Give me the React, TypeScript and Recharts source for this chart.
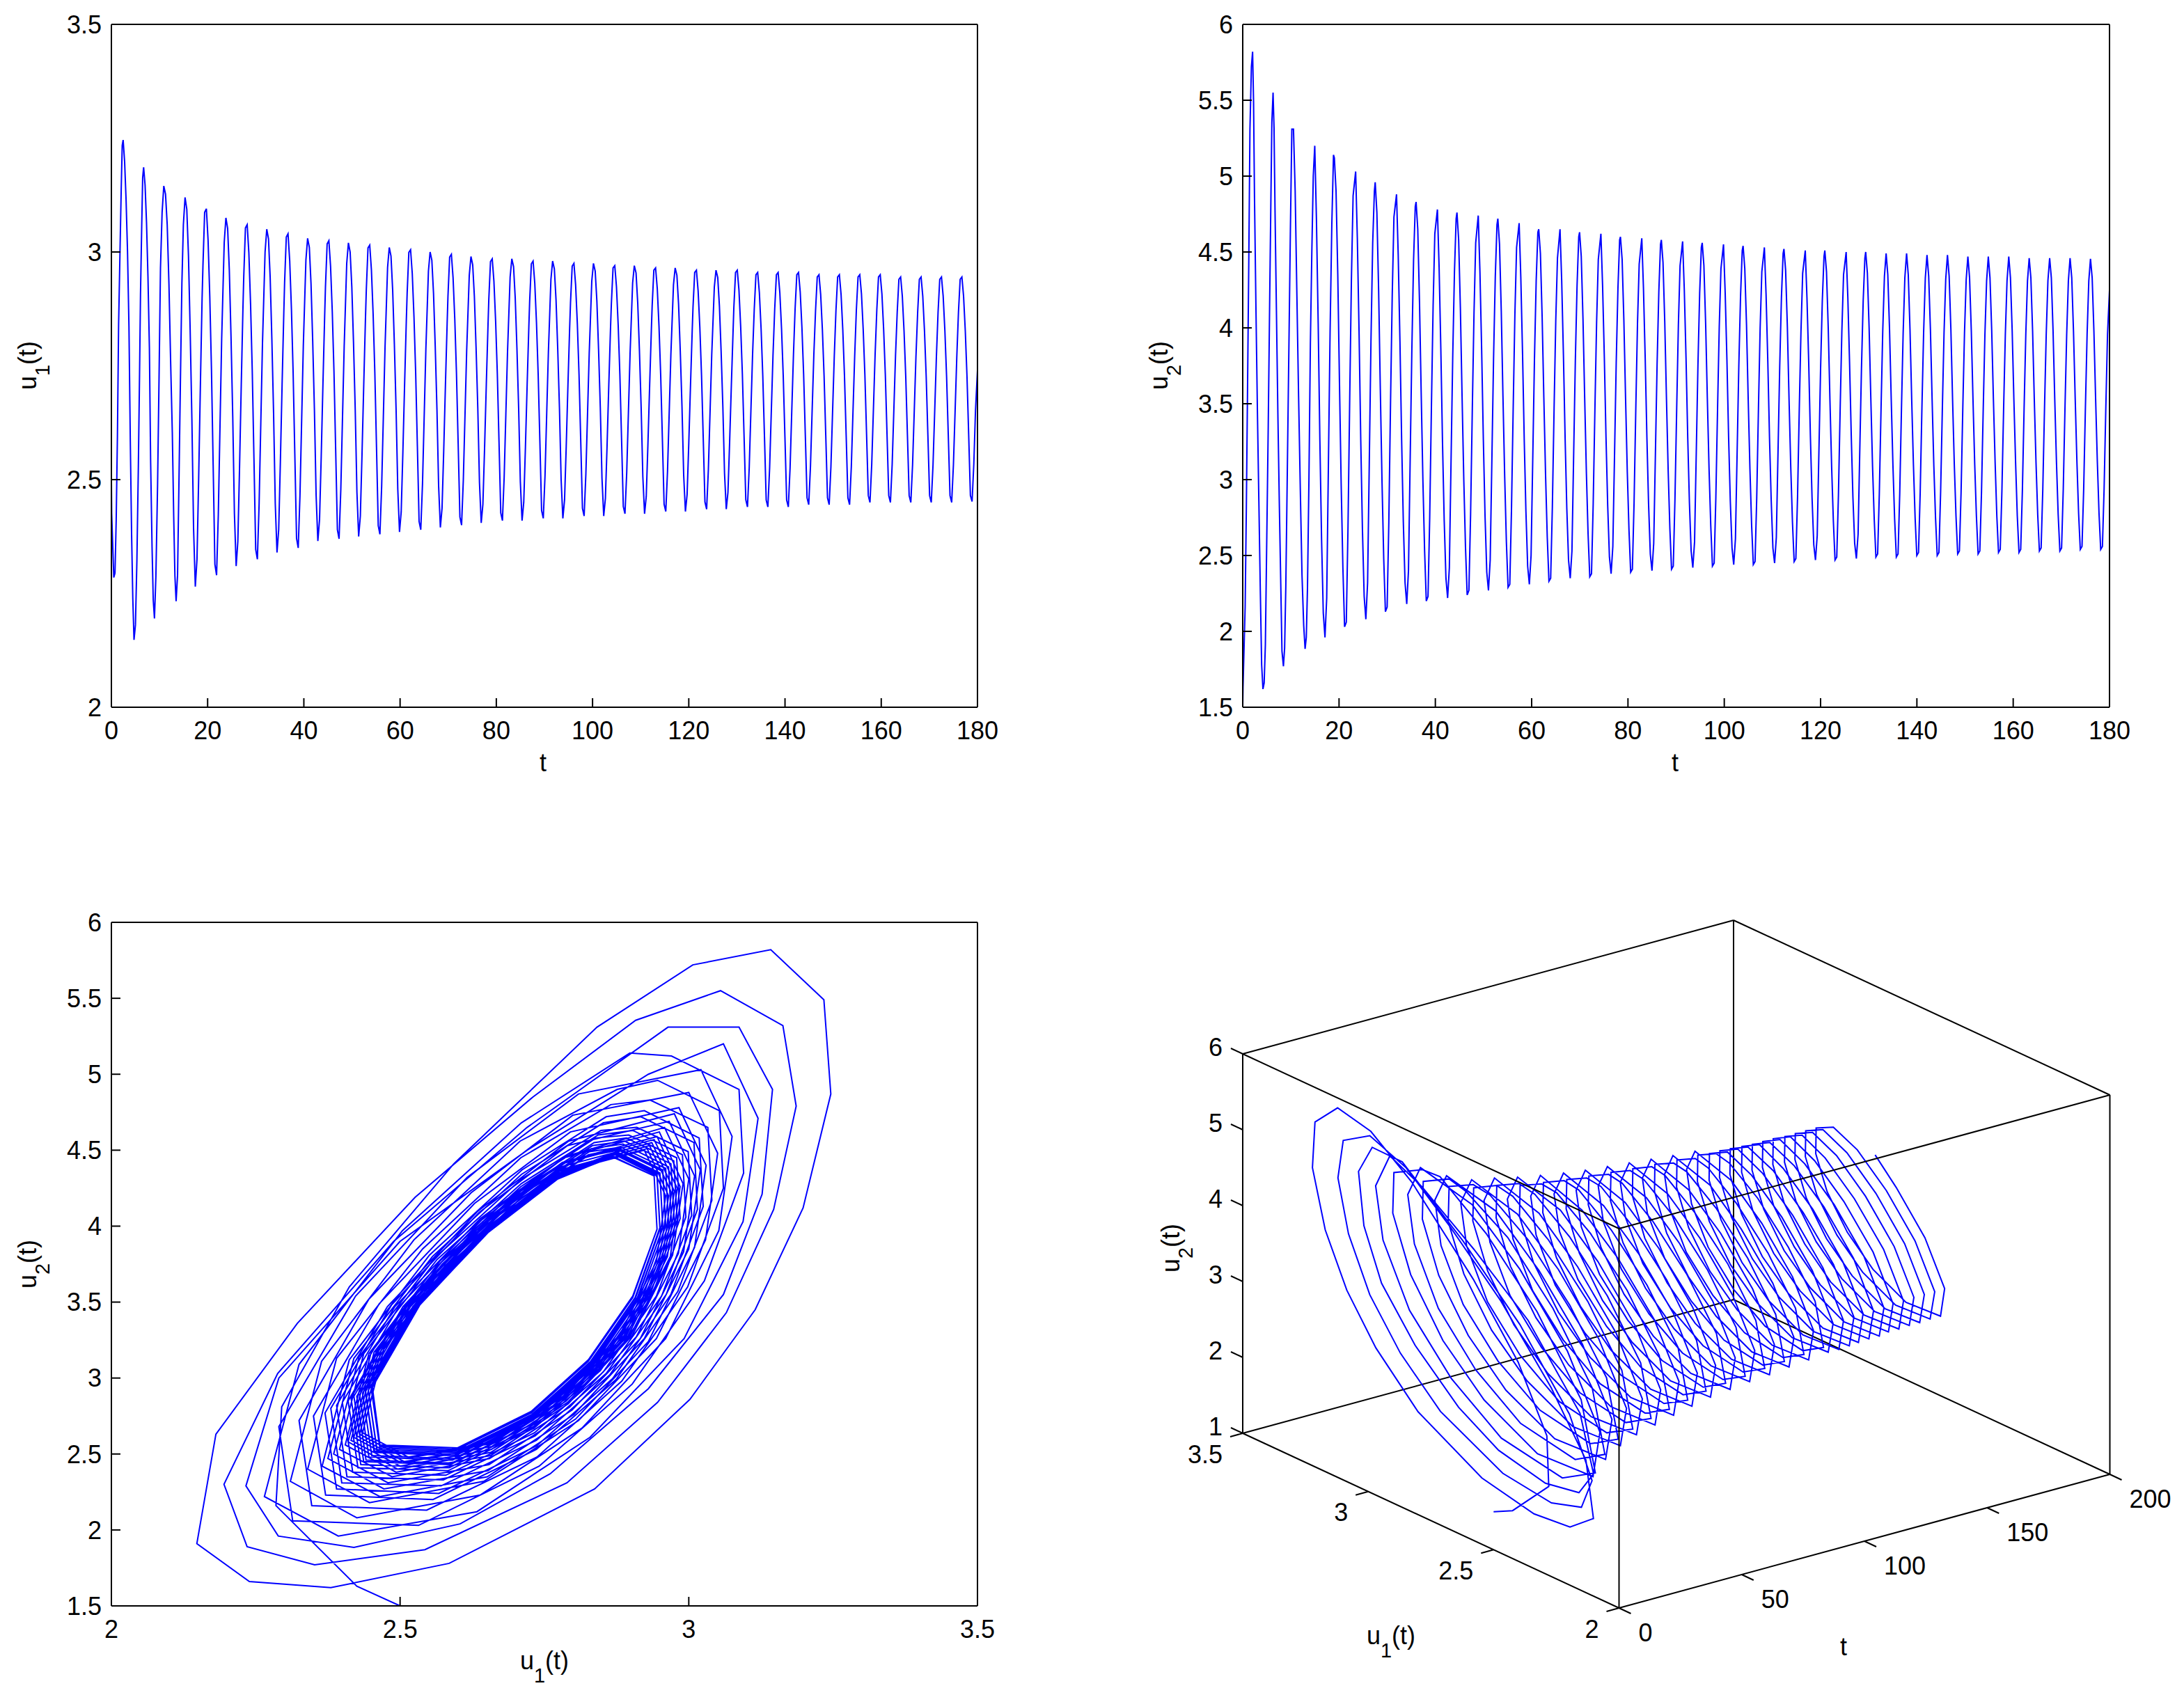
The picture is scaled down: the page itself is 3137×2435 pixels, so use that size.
import { LineChart, Line, XAxis, YAxis, ReferenceDot } from "recharts";

const FONT = '"Liberation Sans", Arial, sans-serif';
const BLUE = "#0000ff";

const timeTicks = [0, 20, 40, 60, 80, 100, 120, 140, 160, 180];
const u1Ticks = [2, 2.5, 3, 3.5];
const u2Ticks = [1.5, 2, 2.5, 3, 3.5, 4, 4.5, 5, 5.5, 6];
const boxTimeTicks = [0, 50, 100, 150, 200];
const boxU1Ticks = [2, 2.5, 3, 3.5];
const boxU2Ticks = [1, 2, 3, 4, 5, 6];

const timeValues = [
  0,.06,.5,.75,1,1.25,1.5,1.8,2.05,
  2.25,2.44,2.75,3.05,3.35,3.65,3.93,4.2,4.45,4.7,5,5.3,5.6,5.85,6.05,
  6.3,6.5,6.7,7,7.3,7.6,7.9,8.15,8.45,8.7,8.95,9.25,9.6,9.9,10.2,
  10.54,10.89,11.25,11.6,11.96,12.31,12.66,12.95,13.2,13.45,13.75,14.05,14.35,14.65,
  14.96,15.31,15.67,16.02,16.37,16.73,17.08,17.44,17.79,18.14,18.5,18.85,
  19.03,19.38,19.74,20.09,20.45,20.8,21.15,21.51,21.86,22.22,22.57,22.92,
  23.45,23.8,24.16,24.51,24.86,25.22,25.57,25.93,26.28,26.63,26.99,27.34,
  27.51,27.86,28.22,28.57,28.93,29.28,29.63,29.99,30.34,30.7,31.05,31.4,
  31.94,32.29,32.65,33,33.35,33.71,34.06,34.42,34.77,35.12,35.48,35.83,
  36,36.35,36.71,37.06,37.42,37.77,38.12,38.48,38.83,39.19,39.54,39.89,
  40.43,40.78,41.14,41.49,41.84,42.2,42.55,42.91,43.26,43.61,43.97,44.32,
  44.49,44.84,45.2,45.55,45.91,46.26,46.61,46.97,47.32,47.68,48.03,48.38,
  48.91,49.26,49.62,49.97,50.32,50.68,51.03,51.39,51.74,52.09,52.45,52.8,
  52.98,53.33,53.69,54.04,54.4,54.75,55.1,55.46,55.81,56.17,56.52,56.87,
  57.4,57.75,58.11,58.46,58.81,59.17,59.52,59.88,60.23,60.58,60.94,61.29,
  61.47,61.82,62.18,62.53,62.89,63.24,63.59,63.95,64.3,64.66,65.01,65.36,
  65.89,66.24,66.6,66.95,67.3,67.66,68.01,68.37,68.72,69.07,69.43,69.78,
  69.95,70.3,70.66,71.01,71.37,71.72,72.07,72.43,72.78,73.14,73.49,73.84,
  74.38,74.73,75.09,75.44,75.79,76.15,76.5,76.86,77.21,77.56,77.92,78.27,
  78.44,78.79,79.15,79.5,79.86,80.21,80.56,80.92,81.27,81.63,81.98,82.33,
  82.87,83.22,83.58,83.93,84.28,84.64,84.99,85.35,85.7,86.05,86.41,86.76,
  86.93,87.28,87.64,87.99,88.35,88.7,89.05,89.41,89.76,90.12,90.47,90.82,
  91.35,91.7,92.06,92.41,92.76,93.12,93.47,93.83,94.18,94.53,94.89,95.24,
  95.42,95.77,96.13,96.48,96.84,97.19,97.54,97.9,98.25,98.61,98.96,99.31,
  99.84,100.19,100.55,100.9,101.25,101.61,101.96,102.32,102.67,103.02,103.38,103.73,
  103.91,104.26,104.62,104.97,105.33,105.68,106.03,106.39,106.74,107.1,107.45,107.8,
  108.33,108.68,109.04,109.39,109.74,110.1,110.45,110.81,111.16,111.51,111.87,112.22,
  112.39,112.74,113.1,113.45,113.81,114.16,114.51,114.87,115.22,115.58,115.93,116.28,
  116.82,117.17,117.53,117.88,118.23,118.59,118.94,119.3,119.65,120,120.36,120.71,
  120.88,121.23,121.59,121.94,122.3,122.65,123,123.36,123.71,124.07,124.42,124.77,
  125.31,125.66,126.02,126.37,126.72,127.08,127.43,127.79,128.14,128.49,128.85,129.2,
  129.37,129.72,130.08,130.43,130.79,131.14,131.49,131.85,132.2,132.56,132.91,133.26,
  133.61,133.96,134.32,134.67,135.03,135.38,135.73,136.09,136.44,136.8,137.15,137.5,
  137.86,138.21,138.57,138.92,139.28,139.63,139.98,140.34,140.69,141.05,141.4,141.75,
  142.1,142.45,142.81,143.16,143.52,143.87,144.22,144.58,144.93,145.29,145.64,145.99,
  146.35,146.7,147.06,147.41,147.77,148.12,148.47,148.83,149.18,149.54,149.89,150.24,
  150.59,150.94,151.3,151.65,152.01,152.36,152.71,153.07,153.42,153.78,154.13,154.48,
  154.83,155.18,155.54,155.89,156.25,156.6,156.95,157.31,157.66,158.02,158.37,158.72,
  159.08,159.43,159.79,160.14,160.5,160.85,161.2,161.56,161.91,162.27,162.62,162.97,
  163.32,163.67,164.03,164.38,164.74,165.09,165.44,165.8,166.15,166.51,166.86,167.21,
  167.57,167.92,168.28,168.63,168.99,169.34,169.69,170.05,170.4,170.76,171.11,171.46,
  171.81,172.16,172.52,172.87,173.23,173.58,173.93,174.29,174.64,175,175.35,175.7,
  176.05,176.4,176.76,177.11,177.47,177.82,178.17,178.53,178.88,179.24,179.59,180,
];

const u1Values = [
  2.5,2.425,2.285,2.295,2.412,2.593,2.841,3.007,3.142,
  3.234,3.246,3.198,3.115,3.002,2.837,2.585,2.38,2.239,2.148,2.181,2.322,2.526,2.73,2.908,
  3.055,3.163,3.186,3.147,3.065,2.946,2.789,2.543,2.352,2.235,2.195,2.288,2.489,2.72,2.964,
  3.087,3.145,3.127,3.06,2.93,2.76,2.604,2.42,2.289,2.233,2.29,2.5,2.72,2.93,
  3.06,3.12,3.094,2.992,2.829,2.633,2.393,2.265,2.325,2.504,2.71,2.898,
  2.97,3.087,3.095,3.027,2.902,2.741,2.532,2.314,2.29,2.423,2.616,2.809,
  3.021,3.075,3.052,2.96,2.815,2.639,2.425,2.31,2.364,2.524,2.708,2.876,
  2.946,3.053,3.06,2.998,2.884,2.737,2.546,2.347,2.325,2.446,2.623,2.799,
  3,3.05,3.029,2.944,2.809,2.645,2.447,2.34,2.39,2.539,2.709,2.865,
  2.933,3.033,3.04,2.981,2.874,2.736,2.557,2.371,2.35,2.464,2.629,2.795,
  2.983,3.03,3.01,2.93,2.804,2.651,2.465,2.365,2.412,2.551,2.711,2.857,
  2.923,3.018,3.025,2.969,2.868,2.737,2.567,2.39,2.37,2.478,2.635,2.792,
  2.975,3.02,3,2.923,2.801,2.652,2.472,2.375,2.42,2.556,2.71,2.852,
  2.917,3.009,3.015,2.961,2.863,2.736,2.571,2.399,2.38,2.485,2.637,2.79,
  2.966,3.01,2.991,2.916,2.798,2.654,2.479,2.385,2.429,2.56,2.71,2.848,
  2.91,2.999,3.005,2.953,2.857,2.734,2.575,2.408,2.39,2.491,2.639,2.787,
  2.958,3,2.982,2.909,2.794,2.655,2.486,2.395,2.437,2.564,2.71,2.843,
  2.903,2.989,2.995,2.944,2.852,2.733,2.579,2.418,2.4,2.498,2.641,2.784,
  2.949,2.99,2.972,2.902,2.791,2.657,2.493,2.405,2.446,2.569,2.709,2.838,
  2.896,2.979,2.985,2.936,2.847,2.732,2.583,2.427,2.41,2.505,2.643,2.781,
  2.945,2.985,2.968,2.899,2.79,2.657,2.496,2.41,2.45,2.571,2.709,2.836,
  2.892,2.974,2.98,2.932,2.844,2.731,2.585,2.432,2.415,2.508,2.644,2.779,
  2.94,2.98,2.963,2.895,2.788,2.658,2.5,2.415,2.455,2.573,2.709,2.833,
  2.889,2.969,2.975,2.928,2.842,2.731,2.587,2.437,2.42,2.512,2.645,2.778,
  2.936,2.975,2.958,2.892,2.786,2.659,2.503,2.42,2.459,2.575,2.709,2.831,
  2.886,2.965,2.97,2.924,2.839,2.73,2.589,2.441,2.425,2.515,2.646,2.777,
  2.932,2.97,2.954,2.888,2.785,2.659,2.507,2.425,2.463,2.578,2.708,2.828,
  2.882,2.96,2.965,2.92,2.837,2.73,2.591,2.446,2.43,2.518,2.647,2.775,
  2.928,2.965,2.949,2.885,2.783,2.66,2.51,2.43,2.467,2.58,2.708,2.826,
  2.879,2.955,2.96,2.915,2.834,2.729,2.593,2.451,2.435,2.522,2.648,2.774,
  2.923,2.96,2.944,2.881,2.782,2.661,2.514,2.435,2.472,2.582,2.708,2.824,
  2.879,2.955,2.96,2.916,2.835,2.731,2.596,2.456,2.44,2.526,2.651,2.775,
  2.875,2.95,2.955,2.911,2.831,2.728,2.595,2.455,2.44,2.525,2.649,2.772,
  2.875,2.95,2.955,2.911,2.831,2.728,2.595,2.455,2.44,2.525,2.649,2.772,
  2.876,2.95,2.955,2.912,2.833,2.731,2.598,2.46,2.445,2.529,2.652,2.774,
  2.872,2.945,2.95,2.907,2.829,2.728,2.597,2.46,2.445,2.528,2.65,2.771,
  2.872,2.945,2.95,2.907,2.829,2.728,2.597,2.46,2.445,2.528,2.65,2.771,
  2.873,2.945,2.95,2.908,2.83,2.73,2.6,2.465,2.45,2.533,2.653,2.773,
  2.873,2.945,2.95,2.908,2.83,2.73,2.6,2.465,2.45,2.533,2.653,2.773,
  2.868,2.94,2.945,2.903,2.826,2.727,2.599,2.465,2.45,2.532,2.65,2.769,
  2.868,2.94,2.945,2.903,2.826,2.727,2.599,2.465,2.45,2.532,2.65,2.769,
  2.868,2.94,2.945,2.903,2.826,2.727,2.599,2.465,2.45,2.532,2.65,2.769,
  2.868,2.94,2.945,2.903,2.826,2.727,2.599,2.465,2.452,2.534,2.652,2.74,
];

const u2Values = [
  1.5,1.63,2.16,2.81,3.6,4.41,5.31,5.72,5.82,
  5.49,4.87,4.12,3.45,2.86,2.27,1.78,1.62,1.66,1.91,2.63,3.36,4.19,4.85,5.355,
  5.55,5.32,4.79,4.11,3.43,2.84,2.31,1.87,1.77,1.89,2.3,3.03,3.9,4.65,5.31,
  5.31,4.9,4.21,3.55,2.93,2.37,2.04,1.885,1.96,2.29,3,3.9,4.5,5,
  5.2,4.71,4.03,3.26,2.61,2.12,1.96,2.22,3.09,3.97,4.68,5.14,
  5.12,4.9,4.35,3.64,2.96,2.42,2.03,2.06,2.68,3.54,4.32,4.87,
  5.03,4.59,3.97,3.26,2.67,2.23,2.08,2.32,3.11,3.91,4.56,4.9,
  4.96,4.76,4.25,3.6,2.98,2.48,2.13,2.16,2.72,3.52,4.22,4.73,
  4.88,4.48,3.91,3.26,2.72,2.32,2.18,2.4,3.13,3.85,4.45,4.8,
  4.83,4.65,4.17,3.57,2.99,2.53,2.2,2.23,2.75,3.49,4.15,4.62,
  4.78,4.4,3.86,3.24,2.73,2.35,2.22,2.42,3.12,3.81,4.37,4.72,
  4.76,4.58,4.13,3.55,2.996,2.555,2.24,2.27,2.77,3.47,4.1,4.56,
  4.74,4.37,3.85,3.26,2.76,2.39,2.27,2.47,3.13,3.8,4.34,4.68,
  4.72,4.55,4.11,3.55,3.02,2.59,2.29,2.31,2.8,3.48,4.09,4.53,
  4.69,4.33,3.83,3.26,2.79,2.43,2.31,2.5,3.14,3.79,4.31,4.63,
  4.65,4.49,4.07,3.54,3.03,2.62,2.33,2.35,2.82,3.47,4.05,4.46,
  4.65,4.31,3.82,3.27,2.81,2.47,2.35,2.53,3.16,3.78,4.28,4.6,
  4.63,4.47,4.06,3.54,3.04,2.64,2.36,2.38,2.84,3.47,4.04,4.45,
  4.62,4.28,3.81,3.28,2.83,2.49,2.38,2.56,3.16,3.77,4.26,4.58,
  4.6,4.45,4.05,3.54,3.05,2.67,2.39,2.41,2.85,3.47,4.03,4.42,
  4.59,4.26,3.8,3.28,2.84,2.51,2.4,2.58,3.17,3.76,4.24,4.55,
  4.58,4.43,4.04,3.54,3.06,2.68,2.41,2.43,2.87,3.47,4.02,4.41,
  4.57,4.25,3.8,3.28,2.85,2.53,2.42,2.59,3.17,3.75,4.23,4.53,
  4.56,4.41,4.03,3.54,3.07,2.7,2.43,2.45,2.88,3.47,4.01,4.39,
  4.55,4.23,3.79,3.28,2.86,2.55,2.44,2.61,3.18,3.75,4.21,4.51,
  4.54,4.39,4.02,3.53,3.07,2.7,2.44,2.46,2.88,3.47,4,4.37,
  4.53,4.22,3.78,3.28,2.87,2.55,2.45,2.62,3.18,3.74,4.2,4.49,
  4.52,4.38,4.01,3.53,3.08,2.72,2.46,2.48,2.89,3.47,3.98,4.36,
  4.51,4.2,3.78,3.29,2.88,2.57,2.47,2.63,3.18,3.73,4.18,4.47,
  4.51,4.37,4,3.53,3.08,2.73,2.47,2.49,2.9,3.47,3.98,4.35,
  4.5,4.2,3.77,3.29,2.88,2.58,2.48,2.64,3.19,3.73,4.18,4.46,
  4.5,4.36,4,3.54,3.09,2.74,2.49,2.51,2.91,3.47,3.98,4.34,
  4.49,4.35,3.99,3.53,3.09,2.74,2.49,2.51,2.91,3.47,3.97,4.33,
  4.49,4.35,3.99,3.53,3.1,2.75,2.5,2.52,2.92,3.48,3.97,4.33,
  4.48,4.34,3.99,3.53,3.09,2.75,2.5,2.52,2.92,3.47,3.97,4.32,
  4.48,4.34,3.99,3.53,3.1,2.76,2.51,2.53,2.92,3.48,3.97,4.32,
  4.47,4.33,3.98,3.53,3.1,2.76,2.51,2.53,2.92,3.47,3.96,4.31,
  4.47,4.33,3.98,3.53,3.11,2.76,2.52,2.54,2.93,3.48,3.96,4.31,
  4.47,4.33,3.98,3.53,3.11,2.76,2.52,2.54,2.93,3.48,3.96,4.31,
  4.46,4.33,3.98,3.53,3.11,2.77,2.53,2.55,2.94,3.48,3.96,4.31,
  4.46,4.33,3.98,3.53,3.11,2.77,2.53,2.55,2.94,3.48,3.96,4.31,
  4.46,4.33,3.98,3.54,3.12,2.78,2.54,2.56,2.94,3.48,3.96,4.31,
  4.455,4.33,3.98,3.54,3.12,2.78,2.54,2.56,2.94,3.48,3.96,4.25,
];

const rows = timeValues.map((t, i) => ({ t, u1: u1Values[i], u2: u2Values[i] }));

// view of the 3D box, in page pixels
function project(t: number, u1: number, u2: number) {
  return {
    x: 2325.5 + (t / 200) * 705 - ((u1 - 2) / 1.5) * 540.5,
    y: 2310 - (t / 200) * 192 - ((u1 - 2) / 1.5) * 251 - ((u2 - 1) / 5) * 545,
  };
}

const trajectory3d = rows.map((r) => project(r.t, r.u1, r.u2));

type Corner = [number, number, number];
const backEdges: Corner[][] = [
  [[200, 3.5, 1], [200, 3.5, 6]],
  [[200, 3.5, 1], [0, 3.5, 1]],
  [[200, 3.5, 1], [200, 2, 1]],
  [[0, 3.5, 1], [0, 2, 1]],
  [[0, 3.5, 1], [0, 3.5, 6]],
  [[200, 2, 1], [0, 2, 1]],
  [[200, 2, 1], [200, 2, 6]],
  [[200, 3.5, 6], [0, 3.5, 6]],
  [[200, 3.5, 6], [200, 2, 6]],
];
const frontEdges: Corner[][] = [
  [[0, 2, 1], [0, 2, 6]],
  [[0, 2, 6], [0, 3.5, 6]],
  [[0, 2, 6], [200, 2, 6]],
];

const toSegment = (edge: Corner[]) => edge.map((c) => project(c[0], c[1], c[2]));

const tickSegments: { x: number; y: number }[][] = [
  ...boxU2Ticks.map((v) => {
    const p = project(0, 3.5, v);
    return [p, { x: p.x - 17, y: p.y - 8 }];
  }),
  ...boxU1Ticks.map((v) => {
    const p = project(0, v, 1);
    return [p, { x: p.x - 18, y: p.y + 5 }];
  }),
  ...boxTimeTicks.map((v) => {
    const p = project(v, 2, 1);
    return [p, { x: p.x + 17, y: p.y + 8 }];
  }),
];

function AxisTitle({ x, y, sub, rotate = false }: { x: number; y: number; sub: string; rotate?: boolean }) {
  return (
    <text
      x={x}
      y={y}
      textAnchor="middle"
      fontSize={36}
      fontFamily={FONT}
      fill="#000"
      transform={rotate ? `rotate(-90 ${x} ${y})` : undefined}
    >
      u
      <tspan dy={19} fontSize={29}>{sub}</tspan>
      <tspan dy={-19}>(t)</tspan>
    </text>
  );
}

const tickStyle = { fontSize: 36, fill: "#000", fontFamily: FONT };

type PanelProps = {
  left: number;
  top: number;
  plotWidth: number;
  plotHeight: number;
  xKey: string;
  yKey: string;
  xDomain: [number, number];
  yDomain: [number, number];
  xTicks: number[];
  yTicks: number[];
  children?: React.ReactNode;
};

// one flat panel: left/top is the corner of the plot box, the chart starts 170px left and 30px above it
function Panel({ left, top, plotWidth, plotHeight, xKey, yKey, xDomain, yDomain, xTicks, yTicks, children }: PanelProps) {
  const axisLine = { stroke: "#000", strokeWidth: 2 };
  const tickLine = { stroke: "#000", strokeWidth: 2 };
  return (
    <div style={{ position: "absolute", left: left - 170, top: top - 30 }}>
      <LineChart
        width={plotWidth + 230}
        height={plotHeight + 180}
        data={rows}
        margin={{ top: 29, right: 59, bottom: 0, left: 0 }}
      >
        <XAxis
          dataKey={xKey}
          type="number"
          domain={xDomain}
          ticks={xTicks}
          interval={0}
          allowDataOverflow
          height={150}
          tickSize={-13}
          tickMargin={33}
          axisLine={axisLine}
          tickLine={tickLine}
          tick={tickStyle}
        />
        <YAxis
          dataKey={yKey}
          type="number"
          domain={yDomain}
          ticks={yTicks}
          interval={0}
          allowDataOverflow
          width={170}
          tickSize={-13}
          tickMargin={27}
          axisLine={axisLine}
          tickLine={tickLine}
          tick={tickStyle}
        />
        <XAxis
          xAxisId="top"
          orientation="top"
          type="number"
          domain={xDomain}
          ticks={xTicks}
          interval={0}
          allowDataOverflow
          height={1}
          tickSize={-13}
          axisLine={axisLine}
          tickLine={tickLine}
          tick={false}
        />
        <YAxis
          yAxisId="right"
          orientation="right"
          type="number"
          domain={yDomain}
          ticks={yTicks}
          interval={0}
          allowDataOverflow
          width={1}
          tickSize={-13}
          axisLine={axisLine}
          tickLine={tickLine}
          tick={false}
        />
        <Line
          dataKey={yKey}
          stroke={BLUE}
          strokeWidth={2}
          dot={false}
          type="linear"
          isAnimationActive={false}
        />
        {children}
      </LineChart>
    </div>
  );
}

function TickText({ cx, cy, value, anchor }: { cx?: number; cy?: number; value: number; anchor: "start" | "end" }) {
  return (
    <text x={cx} y={cy} textAnchor={anchor} dominantBaseline="central" fontSize={36} fontFamily={FONT} fill="#000">
      {value}
    </text>
  );
}

function BoxPanel() {
  const blackLine = (seg: { x: number; y: number }[], key: string) => (
    <Line
      key={key}
      data={seg}
      dataKey="y"
      stroke="#000"
      strokeWidth={2}
      dot={false}
      type="linear"
      legendType="none"
      isAnimationActive={false}
    />
  );
  const left = 1600;
  const top = 1300;
  return (
    <div style={{ position: "absolute", left, top }}>
      <LineChart width={1537} height={1135} margin={{ top: 0, right: 0, bottom: 0, left: 0 }}>
        <XAxis dataKey="x" type="number" domain={[1600, 3137]} allowDataOverflow hide />
        <YAxis type="number" domain={[1300, 2435]} reversed allowDataOverflow hide />
        {backEdges.map((e, i) => blackLine(toSegment(e), `back${i}`))}
        {tickSegments.map((s, i) => blackLine(s, `tick${i}`))}
        <Line
          data={trajectory3d}
          dataKey="y"
          stroke={BLUE}
          strokeWidth={2}
          dot={false}
          type="linear"
          legendType="none"
          isAnimationActive={false}
        />
        {frontEdges.map((e, i) => blackLine(toSegment(e), `front${i}`))}
        {boxU2Ticks.map((v) => {
          const p = project(0, 3.5, v);
          return (
            <ReferenceDot key={`z${v}`} x={p.x - 29} y={p.y - 10} r={0} ifOverflow="visible"
              shape={(s: any) => <TickText cx={s.cx} cy={s.cy} value={v} anchor="end" />} />
          );
        })}
        {boxU1Ticks.map((v) => {
          const p = project(0, v, 1);
          return (
            <ReferenceDot key={`y${v}`} x={p.x - 29} y={p.y + 30} r={0} ifOverflow="visible"
              shape={(s: any) => <TickText cx={s.cx} cy={s.cy} value={v} anchor="end" />} />
          );
        })}
        {boxTimeTicks.map((v) => {
          const p = project(v, 2, 1);
          return (
            <ReferenceDot key={`x${v}`} x={p.x + 28} y={p.y + 35} r={0} ifOverflow="visible"
              shape={(s: any) => <TickText cx={s.cx} cy={s.cy} value={v} anchor="start" />} />
          );
        })}
        <AxisTitle x={1694 - left} y={1793 - top} sub="2" rotate />
        <AxisTitle x={1998 - left} y={2362 - top} sub="1" />
        <text x={2648 - left} y={2378 - top} textAnchor="middle" fontSize={36} fontFamily={FONT}>t</text>
      </LineChart>
    </div>
  );
}

export default function App() {
  return (
    <div style={{ position: "absolute", left: 0, top: 0, width: 3137, height: 2435, background: "#fff", overflow: "hidden" }}>
      <Panel left={160} top={35} plotWidth={1244} plotHeight={981} xKey="t" yKey="u1"
        xDomain={[0, 180]} yDomain={[2, 3.5]} xTicks={timeTicks} yTicks={u1Ticks}>
        <AxisTitle x={62} y={520} sub="1" rotate />
        <text x={790} y={1103} textAnchor="middle" fontSize={36} fontFamily={FONT}>t</text>
      </Panel>
      <Panel left={1785} top={35} plotWidth={1245} plotHeight={981} xKey="t" yKey="u2"
        xDomain={[0, 180]} yDomain={[1.5, 6]} xTicks={timeTicks} yTicks={u2Ticks}>
        <AxisTitle x={62} y={520} sub="2" rotate />
        <text x={791} y={1103} textAnchor="middle" fontSize={36} fontFamily={FONT}>t</text>
      </Panel>
      <Panel left={160} top={1325} plotWidth={1244} plotHeight={982} xKey="u1" yKey="u2"
        xDomain={[2, 3.5]} yDomain={[1.5, 6]} xTicks={u1Ticks} yTicks={u2Ticks}>
        <AxisTitle x={62} y={521} sub="2" rotate />
        <AxisTitle x={792} y={1103} sub="1" />
      </Panel>
      <BoxPanel />
    </div>
  );
}
